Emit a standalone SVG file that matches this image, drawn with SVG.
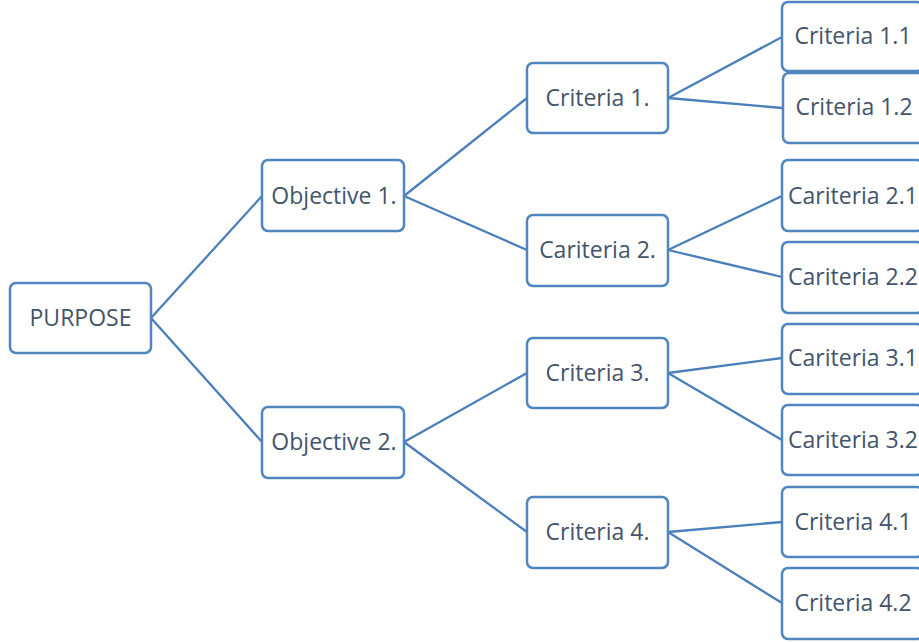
<svg xmlns="http://www.w3.org/2000/svg" width="919" height="642" viewBox="0 0 919 642">
<style>
.box{fill:#fff;stroke:#4f86c0;stroke-width:2.5}
.lbl{font-family:"Open Sans","Liberation Sans",sans-serif;font-size:23px;fill:#44546a;text-anchor:middle;dominant-baseline:central}
.con line{stroke:#4a7fba;stroke-width:2.3}
</style>
<rect width="919" height="642" fill="#fff"/>
<g id="connectors" class="con">
<line x1="151" y1="318" x2="262" y2="196"/>
<line x1="151" y1="318" x2="262" y2="442"/>
<line x1="404" y1="196" x2="527" y2="98"/>
<line x1="404" y1="196" x2="527" y2="250"/>
<line x1="404" y1="442" x2="527" y2="373"/>
<line x1="404" y1="442" x2="527" y2="532"/>
<line x1="668" y1="98" x2="782" y2="37"/>
<line x1="668" y1="98" x2="782" y2="108"/>
<line x1="668" y1="250" x2="782" y2="196"/>
<line x1="668" y1="250" x2="782" y2="277"/>
<line x1="668" y1="373" x2="782" y2="358"/>
<line x1="668" y1="373" x2="782" y2="440"/>
<line x1="668" y1="532" x2="782" y2="522"/>
<line x1="668" y1="532" x2="782" y2="603"/>
</g>
<g id="purpose"><rect class="box" x="10" y="283" width="141" height="70" rx="6"/><text class="lbl" x="80.5" y="317">PURPOSE</text></g>
<g id="obj1"><rect class="box" x="262" y="160" width="142" height="71" rx="6"/><text class="lbl" x="334" y="195">Objective 1.</text></g>
<g id="obj2"><rect class="box" x="262" y="407" width="142" height="71" rx="6"/><text class="lbl" x="334" y="441">Objective 2.</text></g>
<g id="c1"><rect class="box" x="527" y="63" width="141" height="70" rx="6"/><text class="lbl" x="597.5" y="97">Criteria 1.</text></g>
<g id="c2"><rect class="box" x="527" y="215" width="141" height="71" rx="6"/><text class="lbl" x="597.5" y="249">Cariteria 2.</text></g>
<g id="c3"><rect class="box" x="527" y="338" width="141" height="70" rx="6"/><text class="lbl" x="597.5" y="372">Criteria 3.</text></g>
<g id="c4"><rect class="box" x="527" y="497" width="141" height="71" rx="6"/><text class="lbl" x="597.5" y="531">Criteria 4.</text></g>
<g id="c11"><rect class="box" x="782" y="2" width="141" height="69" rx="6"/><text class="lbl" x="853" y="35">Criteria 1.1</text></g>
<g id="c12"><rect class="box" x="783" y="73" width="141" height="70" rx="6"/><text class="lbl" x="854" y="106">Criteria 1.2</text></g>
<g id="c21"><rect class="box" x="782" y="160" width="141" height="71" rx="6"/><text class="lbl" x="853" y="195">Cariteria 2.1</text></g>
<g id="c22"><rect class="box" x="782" y="242" width="141" height="71" rx="6"/><text class="lbl" x="853" y="276">Cariteria 2.2</text></g>
<g id="c31"><rect class="box" x="782" y="324" width="141" height="70" rx="6"/><text class="lbl" x="853" y="357">Cariteria 3.1</text></g>
<g id="c32"><rect class="box" x="782" y="405" width="141" height="70" rx="6"/><text class="lbl" x="853" y="439">Cariteria 3.2</text></g>
<g id="c41"><rect class="box" x="782" y="487" width="141" height="70" rx="6"/><text class="lbl" x="853" y="521">Criteria 4.1</text></g>
<g id="c42"><rect class="box" x="782" y="568" width="141" height="71" rx="6"/><text class="lbl" x="853" y="602">Criteria 4.2</text></g>
</svg>
